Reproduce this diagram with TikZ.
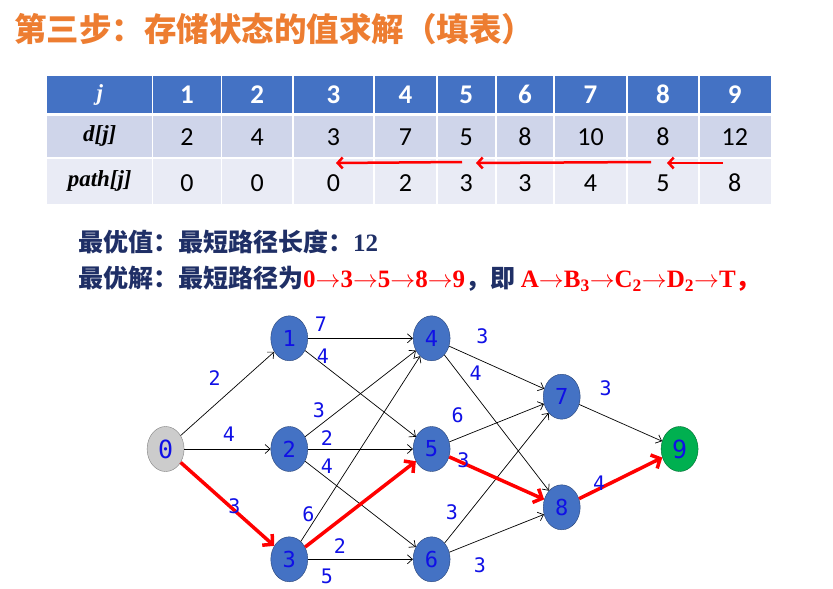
\documentclass[tikz,border=0pt]{standalone}
\usepackage{fontspec}
\setmainfont{Liberation Serif}
\newfontfamily\cjk{Noto Sans CJK SC}
\newfontfamily\calib{Carlito}
\newfontfamily\mono{DejaVu Sans Mono}
\usetikzlibrary{shapes.geometric,arrows.meta}

\definecolor{hdblue}{HTML}{4472C4}
\definecolor{rowa}{HTML}{CFD5EA}
\definecolor{rowb}{HTML}{E9EBF5}
\definecolor{titleorange}{HTML}{ED7D31}
\definecolor{navy}{HTML}{1F2F66}
\definecolor{lblblue}{HTML}{1010E6}
\definecolor{nodegray}{HTML}{CCCCCC}
\definecolor{nodegreen}{HTML}{00B050}

\newcommand{\ra}{\ensuremath{\rightarrow}}

\tikzset{
  vertex/.style={ellipse, draw=hdblue!60!black, fill=hdblue, minimum width=37pt,
    minimum height=45pt, inner sep=0pt, text=lblblue,
    font=\mono\fontsize{22}{22}\selectfont},
  wlabel/.style={inner sep=0pt, text=lblblue, font=\mono\fontsize{20}{20}\selectfont},
  edge/.style={-{Straight Barb[length=5pt,width=9pt]}, line width=0.7pt},
  bestedge/.style={-{Straight Barb[length=7pt,width=15pt]}, line width=3.5pt, red},
  patharrow/.style={-{Straight Barb[length=5pt,width=11pt]}, line width=2.5pt, red},
  hdtext/.style={text=white, font=\calib\bfseries\fontsize{27}{27}\selectfont},
  celltext/.style={font=\calib\fontsize{26}{26}\selectfont},
  rowname/.style={font=\bfseries\itshape\fontsize{23}{23}\selectfont}
}

\begin{document}
\begin{tikzpicture}[x=1pt,y=-1pt]
  \useasboundingbox[fill=white] (0,0) rectangle (833,589);

  % title and result lines
  \node[anchor=west, inner sep=0pt, text=titleorange,
    font=\cjk\bfseries\fontsize{32.5}{32.5}\selectfont] (title) at (14,29)
    {第三步：存储状态的值求解（填表）};
  \node[anchor=west, inner sep=0pt, text=navy] (best) at (78,242)
    {\fontsize{25}{25}\selectfont{\cjk\bfseries 最优值：最短路径长度：}\textbf{12}};
  \node[anchor=west, inner sep=0pt, text=navy] (route) at (78,279)
    {\fontsize{25}{25}\selectfont{\cjk\bfseries 最优解：最短路径为}%
     \textcolor{red}{\textbf{0\ra3\ra5\ra8\ra9}}{\cjk\bfseries ，即 }%
     \textcolor{red}{\textbf{A\ra B\textsubscript{3}\ra C\textsubscript{2}\ra D\textsubscript{2}\ra T}{\cjk\bfseries ，}}};

  % table
  \fill[hdblue] (47,76) rectangle (770.5,113);
  \fill[rowa] (47,115.5) rectangle (770.5,157);
  \fill[rowb] (47,158.5) rectangle (770.5,204);
  \node[rowname, text=white] (hj) at (99.7,94.5) {j};
  \node[rowname] (hd) at (99.7,136) {d[j]};
  \node[rowname] (hp) at (99.7,181) {path[j]};
  \foreach \a/\b/\n/\dv/\pv in {152.5/221.6/1/2/0, 221.6/292.8/2/4/0,
      292.8/374/3/3/0, 374/436.8/4/7/2, 436.8/495.8/5/5/3, 495.8/554/6/8/3,
      554/627/7/10/4, 627/699/8/8/5, 699/770.5/9/12/8} {
    \draw[white, line width=1.5pt] (\a,76) -- (\a,204);
    \node[hdtext] (h\n) at ({(\a+\b)/2},94.5) {\n};
    \node[celltext] (d\n) at ({(\a+\b)/2},137) {\dv};
    \node[celltext] (p\n) at ({(\a+\b)/2},183) {\pv};
  }

  % back-tracking arrows
  \coordinate (s1) at (462,162);
  \coordinate (e1) at (336,163);
  \coordinate (s2) at (651,162);
  \coordinate (e2) at (476,163);
  \coordinate (s3) at (723,163);
  \coordinate (e3) at (667,163);
  \draw[patharrow] (s1) -- (e1);
  \draw[patharrow] (s2) -- (e2);
  \draw[patharrow] (s3) -- (e3);

  % graph
  \node[vertex, fill=nodegray, draw=gray, font=\mono\fontsize{25}{25}\selectfont] (v0) at (165.6,449) {0};
  \node[vertex] (v1) at (289.3,338.3) {1};
  \node[vertex] (v2) at (289.3,449) {2};
  \node[vertex] (v3) at (289.3,559.3) {3};
  \node[vertex] (v4) at (431.6,338.3) {4};
  \node[vertex] (v5) at (431.6,449) {5};
  \node[vertex] (v6) at (431.6,559.3) {6};
  \node[vertex] (v7) at (561.7,396.7) {7};
  \node[vertex] (v8) at (561.7,507.3) {8};
  \node[vertex, fill=nodegreen, draw=nodegreen!60!black, font=\mono\fontsize{25}{25}\selectfont] (v9) at (679.6,449) {9};

  \draw[edge] (v0) -- (v1);
  \draw[edge] (v0) -- (v2);
  \draw[edge] (v1) -- (v4);
  \draw[edge] (v1) -- (v5);
  \draw[edge] (v2) -- (v4);
  \draw[edge] (v2) -- (v5);
  \draw[edge] (v2) -- (v6);
  \draw[edge] (v3) -- (v4);
  \draw[edge] (v3) -- (v6);
  \draw[edge] (v4) -- (v7);
  \draw[edge] (v4) -- (v8);
  \draw[edge] (v5) -- (v7);
  \draw[edge] (v6) -- (v7);
  \draw[edge] (v6) -- (v8);
  \draw[edge] (v7) -- (v9);
  \draw[bestedge] (v0) -- (v3);
  \draw[bestedge] (v3) -- (v5);
  \draw[bestedge] (v5) -- (v8);
  \draw[bestedge] (v8) -- (v9);

  % weights
  \node[wlabel] (w01) at (214.6,378.3) {2};
  \node[wlabel] (w02) at (228.8,434.3) {4};
  \node[wlabel] (w03) at (234.5,506.7) {3};
  \node[wlabel] (w14) at (321,324.3) {7};
  \node[wlabel] (w15) at (323,356.7) {4};
  \node[wlabel] (w24) at (319,410) {3};
  \node[wlabel] (w25) at (326.8,437.7) {2};
  \node[wlabel] (w26) at (326.8,466.7) {4};
  \node[wlabel] (w34) at (308.4,514.3) {6};
  \node[wlabel] (w35) at (340,545.7) {2};
  \node[wlabel] (w36) at (326.8,576.7) {5};
  \node[wlabel] (w47) at (482.5,336.7) {3};
  \node[wlabel] (w48) at (475.6,373.3) {4};
  \node[wlabel] (w57) at (457.6,415) {6};
  \node[wlabel] (w58) at (463.4,460) {3};
  \node[wlabel] (w67) at (451.9,512.3) {3};
  \node[wlabel] (w68) at (479.8,565.7) {3};
  \node[wlabel] (w79) at (605.7,388.3) {3};
  \node[wlabel] (w89) at (599.2,483.3) {4};
\end{tikzpicture}
\end{document}
